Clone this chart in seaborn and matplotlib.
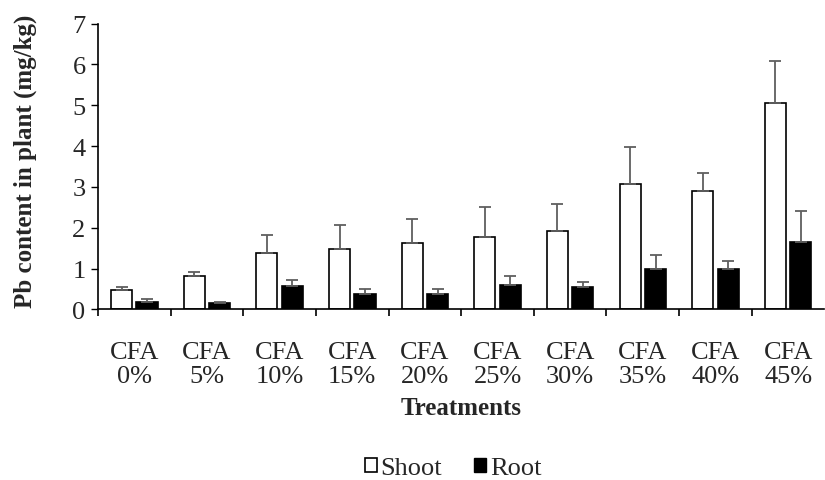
import numpy as np
import pandas as pd
import matplotlib
matplotlib.use("Agg")
import matplotlib.pyplot as plt
import seaborn as sns
from matplotlib.patches import Patch

# data
treatments = ["CFA\n0%", "CFA\n5%", "CFA\n10%", "CFA\n15%", "CFA\n20%",
              "CFA\n25%", "CFA\n30%", "CFA\n35%", "CFA\n40%", "CFA\n45%"]
shoot = [0.47, 0.82, 1.38, 1.48, 1.63, 1.77, 1.91, 3.08, 2.89, 5.05]
shoot_err = [0.09, 0.09, 0.45, 0.58, 0.58, 0.74, 0.66, 0.90, 0.45, 1.03]
root = [0.19, 0.16, 0.57, 0.38, 0.38, 0.59, 0.54, 0.98, 0.98, 1.65]
root_err = [0.06, 0.03, 0.16, 0.13, 0.13, 0.24, 0.14, 0.35, 0.21, 0.75]
yticks = [0, 1, 2, 3, 4, 5, 6, 7]

df = pd.DataFrame({
    "Treatment": treatments * 2,
    "Part": ["Shoot"] * len(treatments) + ["Root"] * len(treatments),
    "Value": shoot + root,
})

sns.set_theme(style="white")
plt.rcParams["font.family"] = ["Liberation Serif", "DejaVu Serif"]

fig = plt.figure(figsize=(8.25, 4.81), dpi=100)
ax = fig.add_axes([0.1188, 0.3545, 0.8805, 0.5945])

sns.barplot(data=df, x="Treatment", y="Value", hue="Part",
            palette={"Shoot": "white", "Root": "black"},
            edgecolor="black", linewidth=1.2, width=0.7, gap=0.17,
            errorbar=None, legend=False, ax=ax)

# upper-only error bars at the bar centres
for cont, err in zip(ax.containers, [shoot_err, root_err]):
    xs = [p.get_x() + p.get_width() / 2 for p in cont.patches]
    hs = [p.get_height() for p in cont.patches]
    ax.errorbar(xs, hs, yerr=[np.zeros(len(err)), err], fmt="none",
                ecolor="#5f5f5f", elinewidth=1.3, capsize=4, capthick=1.3,
                zorder=1)

ax.set_ylim(0, 7)
ax.set_xlim(-0.5, 9.5)
ax.set_yticks(yticks)
ax.tick_params(axis="y", which="major", direction="out", length=5,
               width=1, color="black", labelsize=19, pad=4, left=True)
ax.set_xticks(range(len(treatments)))
ax.set_xticklabels(treatments, linespacing=1.12)
ax.tick_params(axis="x", which="major", length=0, labelsize=19, pad=23)
ax.set_xticks(np.arange(-0.5, 9.5, 1), minor=True)
ax.tick_params(axis="x", which="minor", direction="out", length=5,
               width=1.2, color="black", bottom=True)

for side in ["top", "right"]:
    ax.spines[side].set_visible(False)
for side in ["left", "bottom"]:
    ax.spines[side].set_color("black")
    ax.spines[side].set_linewidth(1.2)

ax.set_xlabel("Treatments", fontsize=18, fontweight="bold")
ax.xaxis.set_label_coords(0.5, -0.303)
ax.set_ylabel("Pb content in plant (mg/kg)", fontsize=18, fontweight="bold")
ax.yaxis.set_label_coords(-0.084, 0.52)

handles = [Patch(facecolor="white", edgecolor="black", linewidth=1.2, label="Shoot"),
           Patch(facecolor="black", edgecolor="black", label="Root")]
fig.legend(handles=handles, loc="center", bbox_to_anchor=(453 / 825, 1 - 469 / 481),
           ncol=2, frameon=False, fontsize=19, handlelength=0.45, handleheight=0.45,
           handletextpad=0.15, columnspacing=1.2)

fig.savefig("out.png", dpi=100)
plt.close(fig)
